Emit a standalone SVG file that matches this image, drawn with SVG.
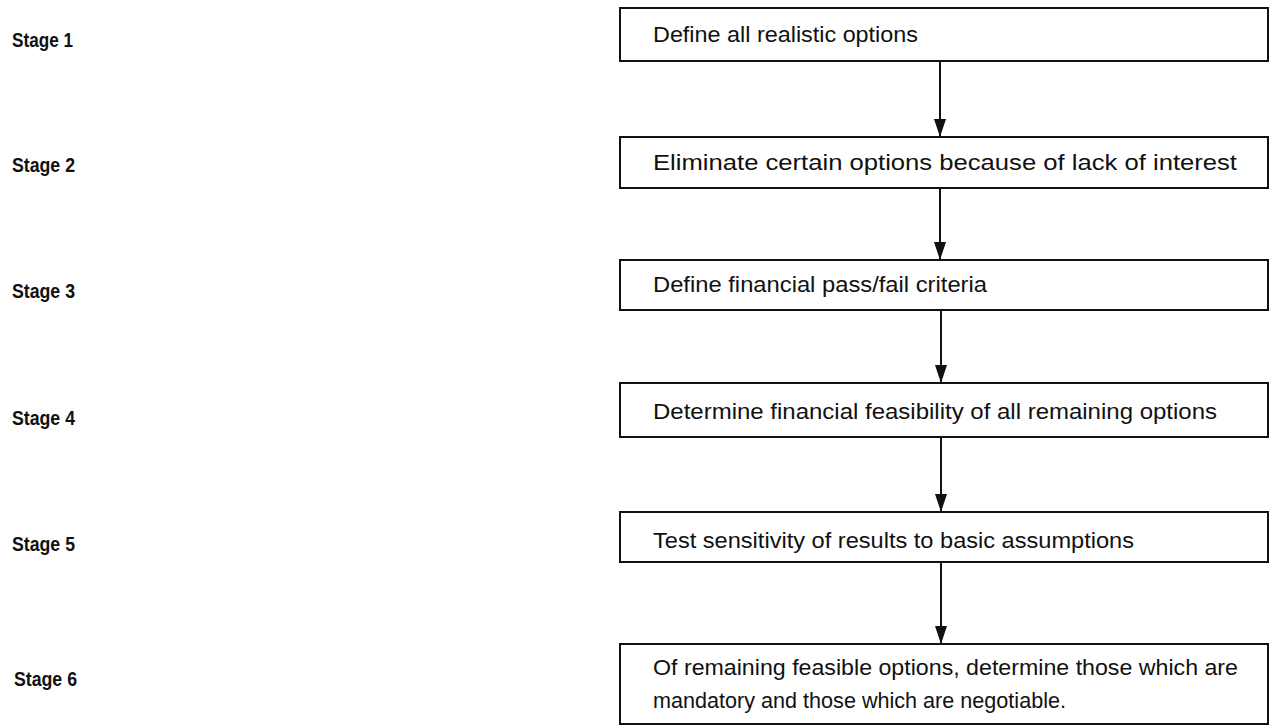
<svg xmlns="http://www.w3.org/2000/svg" width="1276" height="726" viewBox="0 0 1276 726">
<style>
.box{fill:#fff;stroke:#111;stroke-width:2}
.t{font-family:"Liberation Sans",Arial,sans-serif;font-size:22px;fill:#111}
.s{font-family:"Liberation Sans",Arial,sans-serif;font-size:20px;font-weight:bold;fill:#111}
.c{stroke:#111;stroke-width:2;fill:none}
</style>
<defs>
<marker id="ah" markerWidth="18" markerHeight="12" refX="18" refY="6" orient="auto" markerUnits="userSpaceOnUse" viewBox="0 0 18 12">
<path d="M0,0 L18,6 L0,12 Z" fill="#111"/>
</marker>
</defs>
<rect width="1276" height="726" fill="#fff"/>
<g id="labels">
<text class="s" x="12" y="47" textLength="61" lengthAdjust="spacingAndGlyphs">Stage 1</text>
<text class="s" x="12" y="172" textLength="63" lengthAdjust="spacingAndGlyphs">Stage 2</text>
<text class="s" x="12" y="298" textLength="63" lengthAdjust="spacingAndGlyphs">Stage 3</text>
<text class="s" x="12" y="425" textLength="63" lengthAdjust="spacingAndGlyphs">Stage 4</text>
<text class="s" x="12" y="551" textLength="63" lengthAdjust="spacingAndGlyphs">Stage 5</text>
<text class="s" x="14" y="686" textLength="63" lengthAdjust="spacingAndGlyphs">Stage 6</text>
</g>
<g id="connectors">
<path class="c" d="M940,61 V137" marker-end="url(#ah)"/>
<path class="c" d="M940,188 V260" marker-end="url(#ah)"/>
<path class="c" d="M941,310 V383" marker-end="url(#ah)"/>
<path class="c" d="M941,437 V512" marker-end="url(#ah)"/>
<path class="c" d="M941,562 V644" marker-end="url(#ah)"/>
</g>
<g id="n1"><rect class="box" x="620" y="8" width="648" height="53"/><text class="t" x="653" y="42" textLength="265" lengthAdjust="spacingAndGlyphs">Define all realistic options</text></g>
<g id="n2"><rect class="box" x="620" y="137" width="648" height="51"/><text class="t" x="653" y="170" textLength="584" lengthAdjust="spacingAndGlyphs">Eliminate certain options because of lack of interest</text></g>
<g id="n3"><rect class="box" x="620" y="260" width="648" height="50"/><text class="t" x="653" y="292" textLength="334" lengthAdjust="spacingAndGlyphs">Define financial pass/fail criteria</text></g>
<g id="n4"><rect class="box" x="620" y="383" width="648" height="54"/><text class="t" x="653" y="419" textLength="564" lengthAdjust="spacingAndGlyphs">Determine financial feasibility of all remaining options</text></g>
<g id="n5"><rect class="box" x="620" y="512" width="648" height="50"/><text class="t" x="653" y="548" textLength="481" lengthAdjust="spacingAndGlyphs">Test sensitivity of results to basic assumptions</text></g>
<g id="n6"><rect class="box" x="620" y="644" width="648" height="80"/><text class="t" x="653" y="675" textLength="585" lengthAdjust="spacingAndGlyphs">Of remaining feasible options, determine those which are</text><text class="t" x="653" y="708" textLength="413" lengthAdjust="spacingAndGlyphs">mandatory and those which are negotiable.</text></g>
</svg>
